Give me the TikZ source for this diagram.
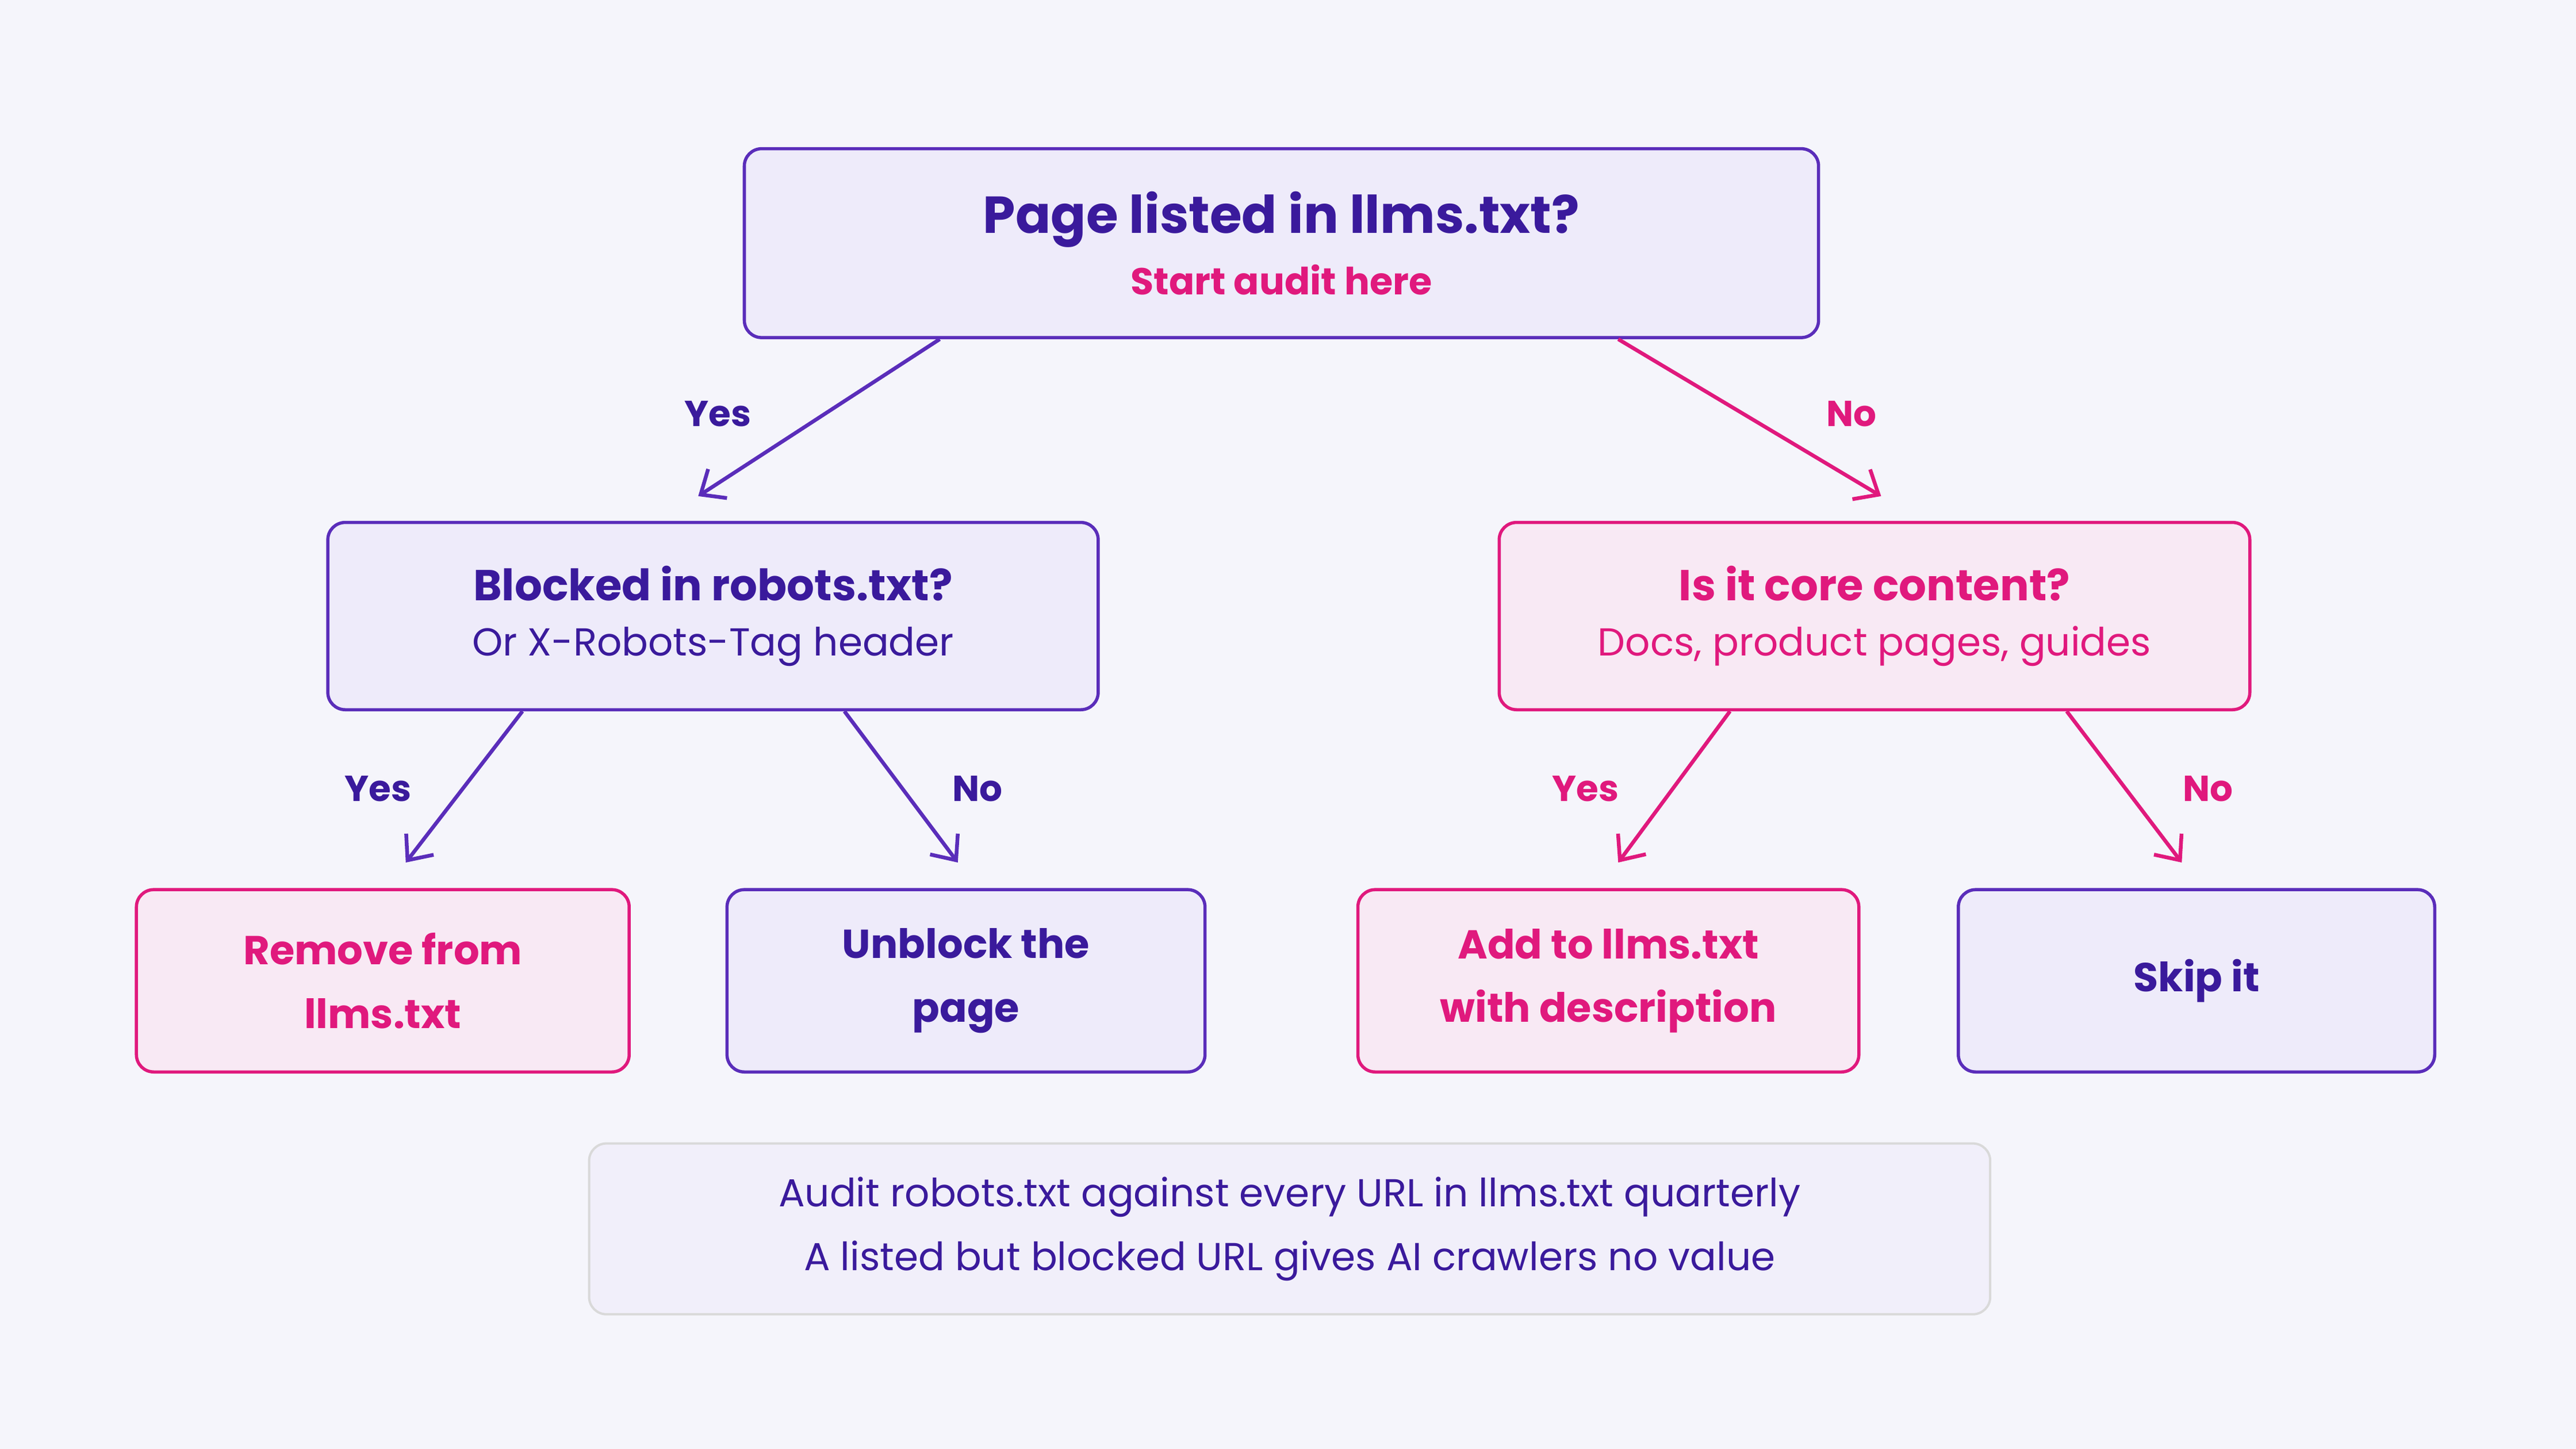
\documentclass[tikz,border=0pt]{standalone}
\usepackage{fontspec}
\setmainfont{Poppins}
\usetikzlibrary{arrows.meta}
\definecolor{ink}{HTML}{3A1A9C}
\definecolor{edgeP}{HTML}{5A2DBA}
\definecolor{pink}{HTML}{E0197D}
\definecolor{lav}{HTML}{EEEBFA}
\definecolor{rose}{HTML}{F8E9F4}
\definecolor{bg}{HTML}{F5F5FB}
\definecolor{note}{HTML}{F1EFFA}
\tikzset{
  pbox/.style={draw=edgeP, fill=lav, rounded corners=6pt, line width=1.1pt, align=center, text=ink},
  kbox/.style={draw=pink, fill=rose, rounded corners=6pt, line width=1.1pt, align=center, text=pink},
  yes/.style={->, >={Straight Barb[length=7pt,width=12pt]}, line width=1.3pt, draw=edgeP},
  no/.style={->, >={Straight Barb[length=7pt,width=12pt]}, line width=1.3pt, draw=pink},
  lab/.style={font=\fontsize{12.5}{15}\selectfont\bfseries}
}
\begin{document}
\begin{tikzpicture}[x=0.02cm,y=-0.02cm]
    % Hintergrund
    \fill[bg] (0,0) rectangle (1568,882);

    % Frage oben
    \node[pbox, minimum width=13.08cm, minimum height=2.3cm] (start) at (780,148)
      {{\fontsize{18}{24}\selectfont\bfseries Page listed in llms.txt?}\\[5pt]
       {\fontsize{13}{17}\selectfont\color{pink}\bfseries Start audit here}};

    % Fragen in der Mitte
    \node[pbox, minimum width=9.38cm, minimum height=2.28cm] (robots) at (434,375)
      {{\fontsize{15}{20}\selectfont\bfseries Blocked in robots.txt?}\\[7pt]
       {\fontsize{13.5}{17}\selectfont Or X-Robots-Tag header}};
    \node[kbox, minimum width=9.14cm, minimum height=2.28cm] (core) at (1141,375)
      {{\fontsize{15}{20}\selectfont\bfseries Is it core content?}\\[7pt]
       {\fontsize{13.5}{17}\selectfont Docs, product pages, guides}};

    % Ergebnisse
    \node[kbox, minimum width=6cm, minimum height=2.22cm, font=\fontsize{14}{22}\selectfont\bfseries] (remove) at (233,597) {Remove from\\llms.txt};
    \node[pbox, minimum width=5.82cm, minimum height=2.22cm, font=\fontsize{14}{22}\selectfont\bfseries] (unblock) at (588,597) {Unblock the\\page};
    \node[kbox, minimum width=6.1cm, minimum height=2.22cm, font=\fontsize{14}{22}\selectfont\bfseries] (add) at (979,597) {Add to llms.txt\\with description};
    \node[pbox, minimum width=5.8cm, minimum height=2.22cm, font=\fontsize{14}{22}\selectfont\bfseries] (skip) at (1337,597) {Skip it};

    % Hinweis
    \node[draw=black!15, fill=note, rounded corners=6pt, line width=0.8pt, align=center, text=ink,
      minimum width=17.06cm, minimum height=2.08cm, font=\fontsize{13.5}{22}\selectfont] (hint) at (785,748)
      {Audit robots.txt against every URL in llms.txt quarterly\\A listed but blocked URL gives AI crawlers no value};

    % Pfeilenden
    \coordinate (t1) at (425,302);
    \coordinate (t2) at (1145,302);
    \coordinate (t3) at (247,525);
    \coordinate (t4) at (583,525);
    \coordinate (t5) at (985,525);
    \coordinate (t6) at (1328,525);

    % Pfeile
    \draw[yes] (start.south -| 572,0) -- (t1);
    \draw[no] (start.south -| 985,0) -- (t2);
    \draw[yes] (robots.south -| 318,0) -- (t3);
    \draw[yes] (robots.south -| 514,0) -- (t4);
    \draw[no] (core.south -| 1053,0) -- (t5);
    \draw[no] (core.south -| 1258,0) -- (t6);

    % Beschriftungen
    \node[lab, text=ink] (y1) at (437,252) {Yes};
    \node[lab, text=pink] (n1) at (1127,252) {No};
    \node[lab, text=ink] (y2) at (230,480) {Yes};
    \node[lab, text=ink] (n2) at (595,480) {No};
    \node[lab, text=pink] (y3) at (965,480) {Yes};
    \node[lab, text=pink] (n3) at (1344,480) {No};
\end{tikzpicture}
\end{document}
